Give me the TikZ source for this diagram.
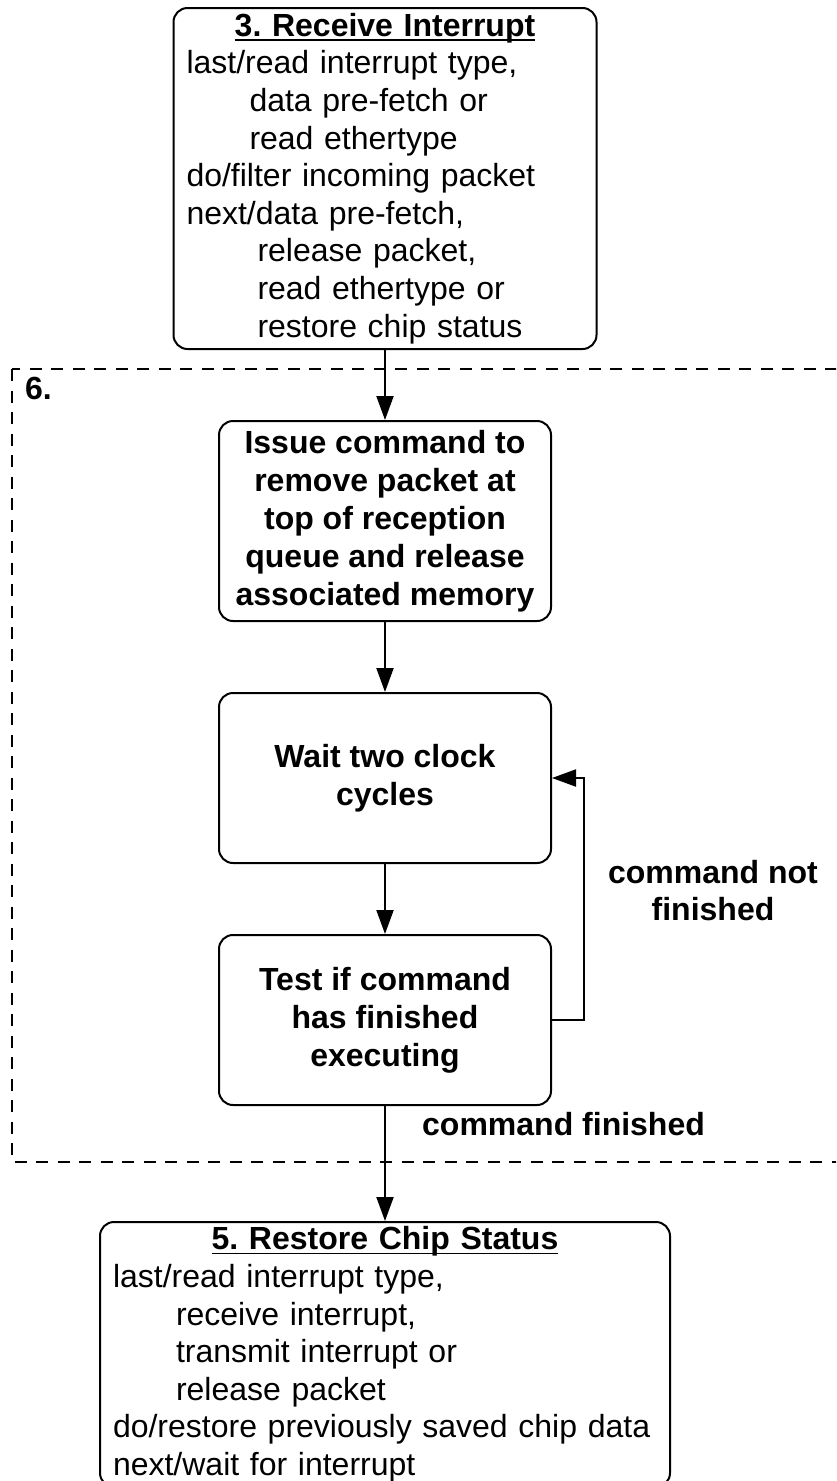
\documentclass[tikz,border=0pt]{standalone}
\usepackage{fontspec}
\setmainfont{Liberation Sans}
\usetikzlibrary{arrows.meta}
\frenchspacing
% bold title with a close underline
\newcommand\titleline[1]{\setbox0\hbox{\bfseries #1}\rlap{\rule[-4.5pt]{\wd0}{1.8pt}}\box0}

\begin{document}
\begin{tikzpicture}[x=1pt,y=-1pt,
  every node/.style={font=\fontsize{32pt}{37.6pt}\selectfont},
  state/.style={draw, line width=2pt, rounded corners=14pt, inner xsep=13pt, inner ysep=0pt, align=left},
  actbox/.style={draw, line width=2pt, rounded corners=14pt, minimum width=332pt, inner sep=0pt,
                 align=center, font=\fontsize{32pt}{38pt}\selectfont\bfseries},
  flow/.style={line width=2pt, -{Triangle[length=24pt,width=17pt]}},
  lbl/.style={inner sep=0pt, align=center, font=\fontsize{32pt}{37pt}\selectfont\bfseries},
  group/.style={line width=2pt, dash pattern=on 12pt off 9.5pt}
]
\useasboundingbox (0,0) rectangle (836,1481);
\clip (0,0) rectangle (836,1481);
\fill[white] (0,0) rectangle (836,1481);

% composite state 6
\draw[group] (12,369) rectangle (900,1162);
\node[lbl, anchor=base west] (grp) at (25,399) {6.};

% state 3
\node[state, text width=397pt, minimum height=341pt] (recv) at (385,178.5)
  {\makebox[397pt]{\titleline{3. Receive Interrupt}}\\
   last/read interrupt type,\\
   \hspace*{63pt}data pre-fetch or\\
   \hspace*{63pt}read ethertype\\
   do/filter incoming packet\\
   next/data pre-fetch,\\
   \hspace*{71pt}release packet,\\
   \hspace*{71pt}read ethertype or\\
   \hspace*{71pt}restore chip status};

% activities inside state 6
\node[actbox, minimum height=200pt] (issue) at (385,521)
  {Issue command to\\remove packet at\\top of reception\\queue and release\\associated memory};
\node[actbox, minimum height=170pt] (wait) at (385,778) {Wait two clock\\cycles};
\node[actbox, minimum height=170pt] (test) at (385,1020) {Test if command\\has finished\\executing};

% state 5
\node[state, text width=544pt, minimum height=265pt] (restore) at (385,1354.5)
  {\makebox[544pt]{\titleline{5. Restore Chip Status}}\\
   last/read interrupt type,\\
   \hspace*{63pt}receive interrupt,\\
   \hspace*{63pt}transmit interrupt or\\
   \hspace*{63pt}release packet\\
   do/restore previously saved chip data\\
   next/wait for interrupt};

% transitions
\draw[flow] (recv.south) -- (issue.north);
\draw[flow] (issue.south) -- (wait.north);
\draw[flow] (wait.south) -- (test.north);
\draw[flow] (test.south) -- (restore.north);
\draw[flow] (test.east) -- ++(32,0) |- (wait.east);

\node[lbl, anchor=north] (notdone) at (713,859.6) {command not\\finished};
\node[lbl, anchor=base west] (done) at (422,1135) {command finished};
\end{tikzpicture}
\end{document}
